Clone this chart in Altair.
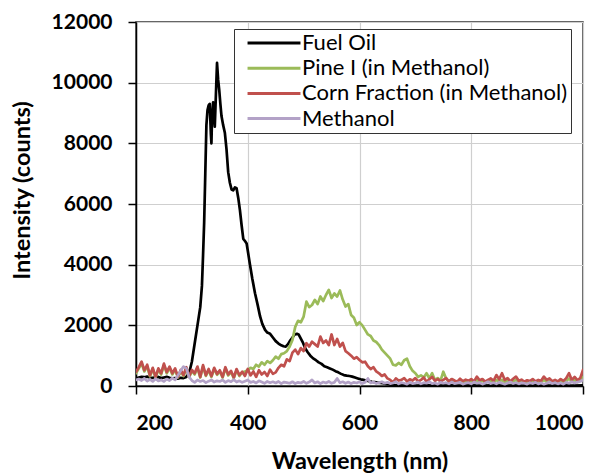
import altair as alt
import pandas as pd

# Series shown in the legend, in drawing order
series_names = ["Fuel Oil", "Pine I (in Methanol)", "Corn Fraction (in Methanol)", "Methanol"]
series_colors = ["#000000", "#9BBB59", "#C0504D", "#B3A2C7"]

# Common 5 nm sampling grid for the methanol-based samples
wavelength = list(range(200, 1001, 5))

# Fuel oil is sampled more finely around its emission peak
fuel_wavelength = [
    200, 205, 210, 215, 220, 225, 230, 235, 240, 245, 250, 255, 260, 265, 270, 275, 280, 285, 290, 295,
    300, 305, 310, 315,
    318, 320, 322, 324, 326, 328, 330, 332, 334, 335, 336, 338, 340, 341, 343, 345, 347, 349, 351, 353,
    356, 359, 362, 365, 368, 371, 374, 377, 380, 383, 386, 389, 392, 395, 398, 401, 404,
    408, 413, 418, 422, 426, 431, 435, 440, 445, 450, 455, 460, 464, 468, 472, 476, 480, 484, 488, 491, 495, 499,
    503, 507, 512, 517, 522, 527, 532, 537, 542, 547, 552, 557, 562, 567, 572, 577, 582, 587, 592, 597,
    602, 607, 612, 617, 622, 627, 632, 637, 642, 647, 652, 657, 662, 667, 672,
    680, 700, 720, 740, 760, 780, 800, 820, 840, 860, 880, 900, 920, 940, 960, 980, 1000,
]
fuel_oil = [
    250, 280, 300, 290, 310, 280, 270, 290, 300, 260, 280, 300, 270, 250, 260, 240, 270, 260, 300, 420,
    800, 1400, 2000, 2600,
    3300, 4300, 5400, 7000, 8600, 9100, 9250, 9300, 8300, 8000, 8800, 9350, 8800, 8550, 9600, 10650, 10100, 9750, 9300, 8900,
    8600, 8350, 7800, 7050, 6700, 6480, 6450, 6550, 6520, 6200, 5800, 5300, 4850, 4780, 4700, 4350, 4000,
    3550, 3060, 2650, 2300, 2050, 1850, 1760, 1720, 1600, 1480, 1400, 1340, 1310, 1300, 1380, 1500, 1600, 1700, 1720, 1700, 1560, 1420,
    1240, 1120, 1000, 910, 850, 780, 730, 650, 620, 580, 540, 490, 450, 400, 360, 340, 330, 310, 280, 250,
    220, 200, 180, 160, 140, 130, 110, 100, 90, 70, 60, 40, 30, 20, 20,
    20, 10, 20, 10, 20, 10, 20, 10, 20, 10, 20, 10, 20, 10, 20, 10, 20,
]

pine = [
    420, 580, 740, 480, 650, 320, 560, 280, 540, 380,
    690, 420, 600, 380, 540, 280, 490, 330, 570, 290,
    490, 380, 600, 280, 640, 330, 520, 300, 560, 370,
    480, 280, 580, 350, 460, 260, 520, 330, 450, 480,
    520, 600, 560, 700, 640, 780, 700, 820, 760, 850,
    970, 900, 1050, 1080, 1150, 1300, 1520, 1950, 2150, 2100,
    2290, 2780, 2600, 2670, 2840, 2700, 2950, 2800, 3000, 3170,
    2900, 3050, 2950, 3150, 2850, 2620, 2700, 2340, 2250, 2010,
    2100, 2000, 1850, 1700, 1650, 1500, 1450, 1350, 1200, 1100,
    1000, 900, 700, 680, 760, 700, 850, 900, 650, 500,
    420, 300, 350, 280, 420, 250, 420, 200, 260, 180,
    470, 250, 140, 220, 160, 120, 200, 150, 130, 160,
    150, 120, 200, 130, 170, 110, 150, 180, 120, 200,
    150, 200, 130, 180, 120, 160, 200, 130, 150, 110,
    140, 120, 170, 110, 150, 130, 200, 140, 170, 120,
    150, 110, 170, 130, 160, 250, 140, 200, 130, 180,
    300,
]

corn = [
    470, 620, 800, 520, 700, 350, 600, 300, 580, 420,
    740, 460, 640, 420, 580, 300, 530, 360, 620, 310,
    530, 420, 640, 300, 690, 360, 560, 330, 600, 400,
    520, 300, 620, 380, 500, 280, 560, 360, 470, 330,
    560, 350, 480, 300, 520, 380, 460, 330, 540, 400,
    450, 600, 700, 650, 880, 820, 1100, 1200, 1050, 1250,
    1150, 1410, 1300, 1460, 1380, 1300, 1630, 1420, 1500, 1350,
    1700, 1350, 1550, 1300, 1420, 1150, 1080, 1000, 900, 950,
    860, 780, 800, 650, 560, 620, 480, 420, 330, 380,
    250, 200, 120, 250, 180, 200, 260, 150, 220, 180,
    260, 150, 200, 280, 140, 220, 300, 170, 230, 150,
    200, 260, 150, 230, 180, 140, 240, 160, 210, 170,
    230, 150, 310, 190, 230, 140, 200, 250, 170, 360,
    220, 420, 200, 260, 150, 240, 310, 170, 210, 140,
    190, 160, 230, 150, 200, 170, 310, 200, 250, 160,
    200, 150, 230, 170, 260, 420, 200, 300, 190, 260,
    530,
]

methanol = [
    200, 230, 180, 250, 160, 220, 150, 240, 170, 200,
    150, 230, 180, 260, 200, 350, 500, 640, 580, 300,
    180, 120, 200, 150, 180, 110, 160, 200, 130, 170,
    150, 200, 120, 180, 140, 210, 130, 170, 120, 160,
    200, 120, 150, 100, 170, 130, 90, 150, 110, 140,
    100, 150, 80, 130, 110, 90, 140, 80, 120, 100,
    150, 90, 130, 200, 100, 140, 80, 130, 100, 150,
    90, 120, 250, 110, 140, 90, 130, 80, 120, 100,
    140, 80, 120, 250, 100, 130, 80, 110, 140, 90,
    120, 80, 100, 140, 70, 110, 90, 60, 120, 80,
    100, 130, 70, 110, 90, 140, 80, 100, 60, 120,
    90, 110, 70, 130, 80, 100, 120, 60, 90, 110,
    70, 130, 90, 110, 60, 100, 140, 80, 110, 70,
    120, 90, 60, 100, 130, 80, 110, 70, 100, 90,
    60, 110, 80, 120, 70, 100, 60, 90, 130, 80,
    110, 70, 100, 60, 120, 90, 140, 100, 130, 150,
    200,
]

x_ticks = [200, 400, 600, 800, 1000]
y_ticks = [0, 2000, 4000, 6000, 8000, 10000, 12000]

# Long-form table, one row per sample
rows = []
for w, v in zip(fuel_wavelength, fuel_oil):
    rows.append({"series": series_names[0], "wavelength": w, "intensity": v})
for name, values in zip(series_names[1:], [pine, corn, methanol]):
    for w, v in zip(wavelength, values):
        rows.append({"series": name, "wavelength": w, "intensity": v})
df = pd.DataFrame(rows)

FONT = "Lato"

chart = (
    alt.Chart(df)
    .mark_line(strokeWidth=2.7, strokeJoin="round", strokeCap="round", clip=True)
    .encode(
        x=alt.X(
            "wavelength:Q",
            scale=alt.Scale(domain=[200, 1000], nice=False, zero=False),
            axis=alt.Axis(
                values=x_ticks,
                format="d",
                title="Wavelength (nm)",
                titleY=82,
                titleBaseline="alphabetic",
                labelPadding=18,
            ),
        ),
        y=alt.Y(
            "intensity:Q",
            scale=alt.Scale(domain=[0, 12000], nice=False),
            axis=alt.Axis(
                values=y_ticks,
                format="d",
                title="Intensity (counts)",
                titleAngle=270,
                titleX=-107,
                titleY=168,
                titleAlign="center",
                titleBaseline="alphabetic",
                labelPadding=16,
            ),
        ),
        color=alt.Color(
            "series:N",
            scale=alt.Scale(domain=series_names, range=series_colors),
            legend=alt.Legend(
                title=None,
                orient="none",
                legendX=98,
                legendY=7,
                direction="vertical",
                symbolType="M-5,0H5",
                symbolSize=112,
                symbolStrokeWidth=3,
                symbolOffset=26,
                labelOffset=17,
                labelLimit=500,
                labelFont=FONT,
                labelFontSize=22,
                labelColor="#000000",
                rowPadding=3.2,
                padding=3,
                strokeColor="#333333",
                fillColor="#FFFFFF",
            ),
        ),
    )
    .properties(
        width=447,
        height=364,
        padding={"left": 136, "top": 22, "right": 26, "bottom": 88},
        autosize=alt.AutoSizeParams(type="none"),
        background="#FFFFFF",
    )
    .configure_view(stroke="#333333", strokeWidth=1.5)
    .configure_axis(
        domainColor="#000000",
        domainWidth=1.5,
        tickColor="#000000",
        tickWidth=1.5,
        tickSize=8,
        gridColor="#CFCFCF",
        gridWidth=1.2,
        labelFont=FONT,
        labelFontSize=21,
        labelFontWeight="bold",
        labelColor="#000000",
        titleFont=FONT,
        titleFontSize=23.5,
        titleFontWeight="bold",
        titleColor="#000000",
    )
)

chart.save("out.html", embed_options={"renderer": "svg", "actions": False})
